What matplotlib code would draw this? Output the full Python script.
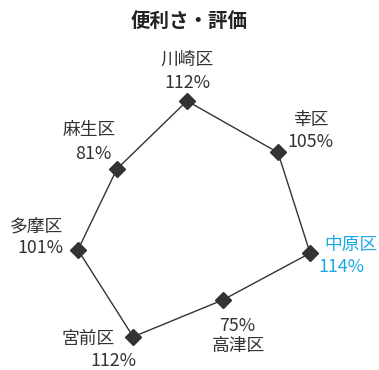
import numpy as np
import matplotlib
matplotlib.use("Agg")
import matplotlib.pyplot as plt

plt.rcParams["font.family"] = ["Noto Sans CJK JP", "DejaVu Sans"]

# Data
title = "便利さ・評価"
districts = ["川崎区", "幸区", "中原区", "高津区", "宮前区", "多摩区", "麻生区"]
values = [112, 105, 114, 75, 112, 101, 81]
highlight = "中原区"

# Label layout: pixel offsets from each marker for (name line, value line)
name_offsets = [(0, 43), (33, 34), (41, 10), (15, -44), (-45, 0), (-41, 25), (-28, 41)]
value_offsets = [(0, 20), (33, 12), (31, -12), (14, -24), (-20, -22), (-37, 4), (-24, 17)]

dark = "#333333"
blue = "#1BA8E8"

W, H, dpi = 379, 370, 100
fig = plt.figure(figsize=(W / dpi, H / dpi), dpi=dpi)

cx, cy, rmax, rpx = 187, 225, 130, 144
ax = fig.add_axes([(cx - rpx) / W, (H - cy - rpx) / H, 2 * rpx / W, 2 * rpx / H],
                  projection="polar")
ax.set_theta_zero_location("N")
ax.set_theta_direction(-1)
ax.set_ylim(0, rmax)
ax.axis("off")

n = len(districts)
theta = np.arange(n) * 2 * np.pi / n
t_closed = np.append(theta, theta[0])
v_closed = np.append(values, values[0])

ax.plot(t_closed, v_closed, color=dark, lw=1.0, zorder=2, clip_on=False)
ax.plot(theta, values, ls="none", marker="D", ms=8.5, color=dark, zorder=3, clip_on=False)

for i, (name, val) in enumerate(zip(districts, values)):
    col = blue if name == highlight else dark
    for txt, off in ((name, name_offsets[i]), (f"{val}%", value_offsets[i])):
        ax.annotate(txt, xy=(theta[i], val), xytext=off, textcoords="offset pixels",
                    ha="center", va="center_baseline", fontsize=12.8, color=col,
                    annotation_clip=False)

fig.text(0.5, 1 - 21 / H, title, ha="center", va="center", fontsize=14,
         fontweight="bold", color="#222222")

fig.savefig("out.png", dpi=dpi)
